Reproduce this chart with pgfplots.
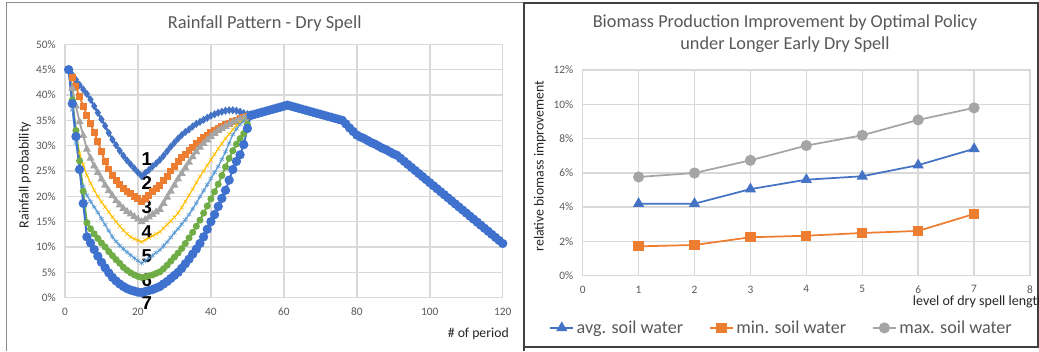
\documentclass[border=0pt]{standalone}
\usepackage{pgfplots}
\pgfplotsset{compat=1.18}
\usepackage{pgfplotstable}
\usepackage{fontspec}
\setmainfont{Carlito}
\newfontfamily\arialfont{Liberation Sans}
\definecolor{xblue}{HTML}{4472C4}
\definecolor{xorange}{HTML}{ED7D31}
\definecolor{xgray}{HTML}{A5A5A5}
\definecolor{xgold}{HTML}{FFC000}
\definecolor{xlblue}{HTML}{5B9BD5}
\definecolor{xgreen}{HTML}{70AD47}
\definecolor{xblue7}{HTML}{3F72CF}
\definecolor{gridc}{HTML}{D9D9D9}
\definecolor{txt}{HTML}{595959}

\pgfplotstableread{
x s1 s2 s3 s4 s5 s6 s7
1 45.0 45.0 45.0 45.0 45.0 45.0 45.0
2 44.0 43.4 41.3 38.0 37.0 39.0 38.3
3 43.0 41.6 37.8 32.5 30.5 33.0 31.8
4 42.0 39.7 34.7 28.5 25.5 27.0 25.3
5 41.1 37.8 32.0 26.2 22.0 21.0 18.6
6 40.2 36.0 29.3 24.2 20.2 14.8 12.0
7 39.1 34.3 27.5 22.6 19.0 13.6 10.8
8 37.8 32.6 26.0 21.2 17.9 12.6 9.5
9 36.5 30.8 24.7 20.0 16.8 11.7 8.2
10 35.2 28.8 23.4 18.9 15.6 10.8 7.0
11 33.9 26.8 22.2 17.9 14.4 10.0 5.9
12 32.5 25.4 21.1 16.9 13.2 9.1 4.9
13 31.2 24.2 20.1 15.9 12.0 8.3 4.0
14 30.1 23.1 19.1 15.0 11.1 7.5 3.3
15 29.0 22.3 18.3 14.1 10.3 6.8 2.7
16 28.0 21.6 17.6 13.3 9.6 6.0 2.2
17 27.1 21.0 17.0 12.6 9.0 5.4 1.8
18 26.3 20.5 16.5 12.0 8.4 4.9 1.5
19 25.5 20.0 16.0 11.6 7.8 4.5 1.3
20 24.7 19.5 15.5 11.3 7.3 4.2 1.1
21 24.0 19.0 15.0 11.0 6.8 4.0 1.0
22 24.6 19.6 15.4 11.4 7.3 4.1 1.2
23 25.2 20.2 15.9 11.8 7.8 4.3 1.4
24 25.9 20.9 16.4 12.2 8.3 4.5 1.6
25 26.5 21.5 16.9 12.6 8.9 4.8 1.9
26 27.2 22.2 17.4 13.0 9.4 5.1 2.2
27 28.0 23.1 18.6 13.7 10.2 5.7 2.7
28 28.9 24.0 19.8 14.4 11.0 6.4 3.2
29 29.8 25.0 21.0 15.1 11.9 7.2 3.8
30 30.6 25.9 22.2 15.9 12.8 8.0 4.4
31 31.4 26.8 23.4 16.7 13.6 8.8 5.0
32 32.1 27.6 24.5 17.8 14.5 9.7 5.8
33 32.7 28.3 25.6 19.0 15.4 10.7 6.7
34 33.2 29.0 26.7 20.2 16.4 11.8 7.6
35 33.8 29.7 27.8 21.4 17.5 12.9 8.6
36 34.3 30.4 28.8 22.7 18.7 14.1 9.6
37 34.7 31.1 29.7 23.9 19.9 15.3 10.7
38 35.1 31.6 30.4 25.0 21.1 16.7 12.0
39 35.5 32.1 31.1 26.1 22.3 18.1 13.5
40 35.9 32.6 31.8 27.2 23.5 19.5 15.0
41 36.2 33.0 32.4 28.3 24.7 20.9 16.4
42 36.5 33.4 33.0 29.4 25.9 22.4 18.0
43 36.7 33.8 33.4 30.4 27.3 24.1 19.6
44 36.9 34.1 33.8 31.4 28.8 25.8 21.2
45 37.0 34.4 34.2 32.3 30.5 27.5 23.2
46 37.0 34.7 34.6 33.2 32.2 29.0 25.3
47 36.9 35.0 34.9 34.0 33.3 30.3 26.9
48 36.7 35.3 35.2 34.6 34.2 31.4 28.2
49 36.4 35.5 35.5 35.1 34.9 32.4 30.2
50 36.2 35.8 35.8 35.6 35.5 34.2 33.4
51 36.0 36.0 36.0 36.0 36.0 36.0 36.0
}\dip

\pgfplotstableread{
x y
51 36.0
52 36.2
53 36.4
54 36.6
55 36.8
56 37.0
57 37.2
58 37.4
59 37.6
60 37.8
61 38.0
62 37.8
63 37.6
64 37.4
65 37.2
66 37.0
67 36.8
68 36.6
69 36.4
70 36.2
71 36.0
72 35.8
73 35.6
74 35.4
75 35.2
76 35.0
77 34.3
78 33.5
79 32.8
80 32.1
81 31.7
82 31.4
83 31.0
84 30.6
85 30.3
86 29.9
87 29.5
88 29.2
89 28.8
90 28.4
91 28.1
92 27.5
93 26.9
94 26.3
95 25.7
96 25.1
97 24.5
98 23.9
99 23.3
100 22.7
101 22.1
102 21.5
103 20.9
104 20.3
105 19.7
106 19.1
107 18.5
108 17.9
109 17.3
110 16.7
111 16.1
112 15.5
113 14.9
114 14.3
115 13.7
116 13.1
117 12.5
118 11.9
119 11.3
120 10.7
}\tail

\pgfplotstableread{
x avg min max
1 4.20 1.71 5.76
2 4.20 1.79 5.99
3 5.05 2.24 6.73
4 5.60 2.33 7.59
5 5.80 2.49 8.19
6 6.45 2.61 9.09
7 7.40 3.60 9.79
}\bio

\begin{document}
\begin{tikzpicture}
\useasboundingbox (0,0) rectangle (779.25pt,263.25pt);
\fill[white] (0,0) rectangle (779.25pt,263.25pt);
% panel frames
\draw[color=black!45, line width=0.7pt] (4.5pt,0) -- (4.5pt,261.75pt) -- (393pt,261.75pt);
\draw[color=black!75, line width=1.1pt] (393pt,0) -- (393pt,261pt) -- (778.5pt,261pt) -- (778.5pt,3pt) -- (393pt,3pt);

\pgfplotsset{
  excel/.style={
    scale only axis,
    grid=major,
    major grid style={gridc, line width=1.1pt},
    axis line style={gridc, line width=1.1pt},
    major tick length=0pt,
    tick style={draw=none},
    /pgf/number format/assume math mode=true,
    ticklabel style={font=\fontsize{8.5}{10}\selectfont, text=txt},
    yticklabel style={xshift=-3.5pt},
    xticklabel style={yshift=-4pt},
    clip=false,
  }
}

% ---------------- left chart ----------------
\begin{axis}[excel,
  at={(48.75pt,40pt)}, anchor=south west,
  width=328.3pt, height=190pt,
  xmin=0, xmax=120, ymin=0, ymax=50,
  xtick={0,20,...,120},
  ytick={0,5,...,50},
  yticklabels={0\%,5\%,10\%,15\%,20\%,25\%,30\%,35\%,40\%,45\%,50\%},
]
\addplot[xblue, line width=1.7pt, mark=diamond*, mark size=1.7pt, mark options={solid}] table[x=x,y=s1] {\dip};
\addplot[xorange, line width=1.4pt, mark=square*, mark size=1.9pt] table[x=x,y=s2] {\dip};
\addplot[xgray, line width=1.4pt, mark=triangle*, mark size=2.1pt] table[x=x,y=s3] {\dip};
\addplot[xgold, line width=0.9pt, mark=x, mark size=2pt, mark options={line width=0.4pt}] table[x=x,y=s4] {\dip};
\addplot[xlblue, line width=0.9pt, mark=asterisk, mark size=2pt, mark options={line width=0.4pt}] table[x=x,y=s5] {\dip};
\addplot[xgreen, line width=1.4pt, mark=*, mark size=1.9pt, mark options={draw=xgreen, fill=xgreen}] table[x=x,y=s6] {\dip};
\addplot[xblue7, line width=1.5pt, mark=*, mark size=2.7pt, mark options={draw=xblue7, fill=xblue7}] table[x=x,y=s7] {\dip};
\addplot[xblue7, line width=1.5pt, mark=*, mark size=2.7pt, mark options={draw=xblue7, fill=xblue7}] table[x=x,y=y] {\tail};
\node[font=\arialfont\bfseries\fontsize{14}{14}\selectfont] at (axis cs:22.4,27.3) {1};
\node[font=\arialfont\bfseries\fontsize{14}{14}\selectfont] at (axis cs:22.4,22.7) {2};
\node[font=\arialfont\bfseries\fontsize{14}{14}\selectfont] at (axis cs:22.4,17.8) {3};
\node[font=\arialfont\bfseries\fontsize{14}{14}\selectfont] at (axis cs:22.4,13.0) {4};
\node[font=\arialfont\bfseries\fontsize{14}{14}\selectfont] at (axis cs:22.4,8.2) {5};
\node[font=\arialfont\bfseries\fontsize{14}{14}\selectfont] at (axis cs:22.4,3.5) {6};
\node[font=\arialfont\bfseries\fontsize{14}{14}\selectfont] at (axis cs:22.4,-1.1) {7};
\end{axis}
\node[text=txt, font=\fontsize{13.8}{16}\selectfont] at (198.5pt,245.8pt) {Rainfall Pattern - Dry Spell};
\node[rotate=90, font=\fontsize{10.5}{12}\selectfont, text=black!85] at (18.75pt,132pt) {Rainfall probability};
\node[anchor=east, font=\fontsize{10.3}{12}\selectfont, text=black!85, inner sep=0pt] at (381.75pt,12.75pt) {\# of period};

% ---------------- right chart ----------------
\begin{axis}[excel,
  at={(437pt,56.5pt)}, anchor=south west,
  width=335.5pt, height=154.25pt,
  xmin=0, xmax=8, ymin=0, ymax=12,
  xtick={0,1,...,8},
  ytick={0,2,...,12},
  yticklabels={0\%,2\%,4\%,6\%,8\%,10\%,12\%},
  legend columns=3,
  legend style={draw=none, fill=none, at={(0.4456,-0.254)}, anchor=center,
    font=\fontsize{13.6}{16}\selectfont, text=txt,
    /tikz/every even column/.append style={column sep=17.5pt},
    inner sep=0pt},
  legend cell align=left,
]
\addplot[xblue, line width=1.3pt, mark=triangle*, mark size=3.6pt] table[x=x,y=avg] {\bio};
\addlegendentry{avg. soil water}
\addplot[xorange, line width=1.3pt, mark=square*, mark size=3.2pt] table[x=x,y=min] {\bio};
\addlegendentry{min. soil water}
\addplot[xgray, line width=1.3pt, mark=*, mark size=3.5pt] table[x=x,y=max] {\bio};
\addlegendentry{max. soil water}
\end{axis}
\node[text=txt, font=\fontsize{13.7}{16}\selectfont] at (588.75pt,246pt) {Biomass Production Improvement by Optimal Policy};
\node[text=txt, font=\fontsize{13.7}{16}\selectfont] at (588.75pt,229.5pt) {under Longer Early Dry Spell};
\node[rotate=90, font=\fontsize{10.4}{12}\selectfont, text=black!85] at (405pt,138.75pt) {relative biomass improvement};
\node[anchor=west, font=\fontsize{10.5}{12}\selectfont, text=black!85, inner sep=0pt] at (684.5pt,37pt) {level of dry spell length};
\end{tikzpicture}
\end{document}
